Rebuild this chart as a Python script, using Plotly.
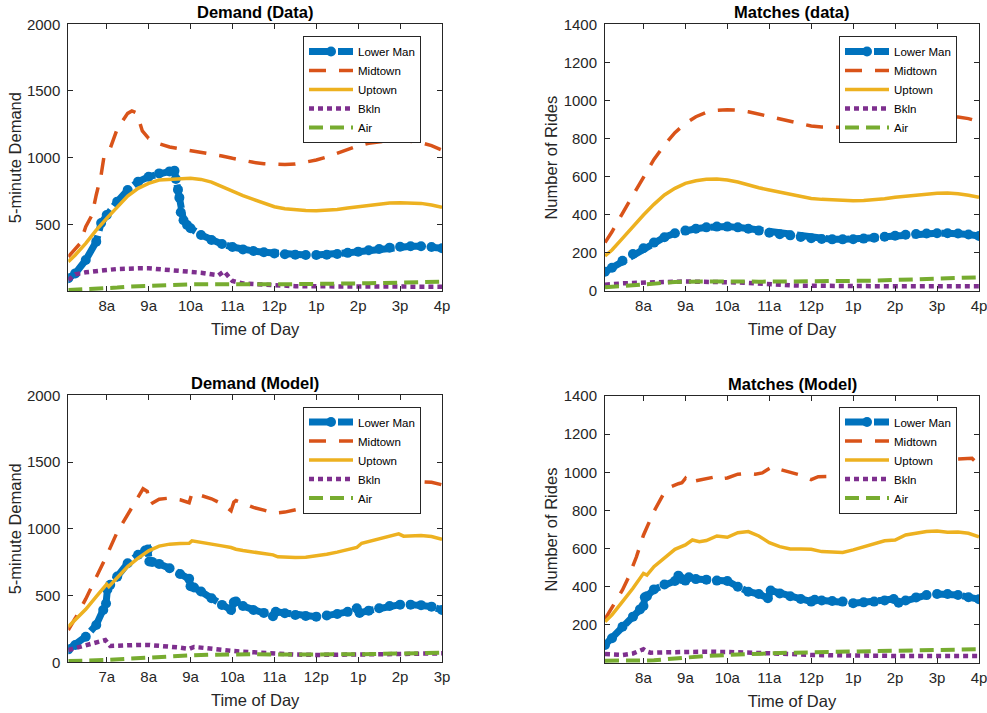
import plotly.graph_objects as go

# ---------------- data (times as "H:MM") ----------------
T_GRID = ["7:05", "7:15", "7:30", "7:45", "8:00", "8:15", "8:30", "8:45", "9:00", "9:15",
          "9:30", "9:45", "10:00", "10:15", "10:30", "10:45", "11:00", "11:15", "11:30", "11:45",
          "12:00", "12:15", "12:30", "12:45", "13:00", "13:15", "13:30", "13:45", "14:00", "14:15",
          "14:30", "14:45", "15:00", "15:15", "15:30", "15:45", "16:00"]

# Demand (Data)
DD_LOWER_T = ["7:05", "7:15", "7:30", "7:45", "7:52", "8:00", "8:15", "8:30", "8:45", "9:00",
              "9:15", "9:30", "9:37", "9:39", "9:42", "9:44", "9:46", "9:50", "9:55", "10:00",
              "10:15", "10:30", "10:45", "11:00", "11:15", "11:30", "11:45", "12:00", "12:15", "12:30",
              "12:45", "13:00", "13:15", "13:30", "13:45", "14:00", "14:15", "14:30", "14:45", "15:00",
              "15:15", "15:30", "15:45", "16:00"]
DD_LOWER = [95, 132, 232, 370, 510, 570, 670, 757, 820, 857,
            882, 897, 902, 840, 760, 700, 590, 530, 495, 470,
            420, 382, 352, 330, 312, 300, 290, 282, 276, 272,
            270, 270, 272, 278, 286, 295, 305, 315, 325, 332,
            335, 335, 330, 320]
DD_MID_T = ["7:05", "7:15", "7:22", "7:30", "7:39", "7:45", "7:52", "7:56", "8:00", "8:05",
            "8:15", "8:30", "8:36", "8:43", "8:51", "9:00", "9:08", "9:15", "9:30", "9:45",
            "10:00", "10:15", "10:30", "10:45", "11:00", "11:15", "11:30", "11:45", "12:00", "12:15",
            "12:30", "12:45", "13:00", "13:15", "13:30", "13:45", "14:00", "14:15", "14:30", "14:45",
            "15:00", "15:15", "15:30", "15:45", "16:00"]
DD_MID = [257, 315, 357, 482, 570, 720, 870, 1005, 1020, 1070,
          1215, 1332, 1350, 1335, 1200, 1145, 1120, 1105, 1080, 1067,
          1057, 1042, 1027, 1012, 995, 977, 965, 955, 950, 948,
          952, 965, 982, 1005, 1032, 1062, 1090, 1108, 1120, 1128,
          1132, 1125, 1112, 1090, 1057]
DD_UP = [220, 270, 357, 457, 545, 632, 712, 770, 807, 832,
         837, 842, 845, 837, 817, 782, 745, 715, 687, 660,
         632, 617, 607, 603, 602, 605, 612, 622, 632, 642,
         652, 660, 662, 662, 657, 645, 627]
DD_BKLN_T = ["7:05", "7:15", "7:30", "7:45", "8:00", "8:15", "8:30", "8:45", "9:00", "9:15",
             "9:30", "9:45", "10:00", "10:15", "10:30", "10:40", "10:48", "11:00", "11:15", "11:30",
             "11:45", "12:00", "12:30", "13:00", "14:00", "15:00", "16:00"]
DD_BKLN = [82, 125, 140, 152, 157, 165, 170, 170, 170, 165,
           157, 152, 145, 137, 125, 118, 148, 75, 57, 52,
           45, 40, 36, 35, 34, 33, 32]
DD_AIR = [7, 9, 12, 16, 20, 26, 32, 36, 40, 43,
          45, 48, 50, 51, 52, 52, 52, 52, 52, 51,
          50, 50, 51, 51, 52, 53, 54, 56, 57, 58,
          60, 61, 62, 64, 66, 68, 70]

# Matches (data) -- all on T_GRID
MD_LOWER = [101, 122, 159, 194, 224, 254, 282, 303, 317, 327,
            334, 338, 338, 334, 327, 317, 306, 298, 292, 284,
            277, 273, 271, 271, 272, 275, 280, 285, 290, 295,
            299, 302, 303, 303, 302, 297, 289]
MD_MID = [254, 311, 408, 504, 600, 691, 766, 831, 880, 915,
          938, 948, 952, 950, 941, 929, 915, 901, 889, 877,
          866, 861, 859, 858, 859, 862, 866, 872, 880, 889,
          898, 906, 912, 915, 913, 905, 889]
MD_UP = [184, 215, 276, 338, 399, 455, 504, 539, 565, 579,
         586, 588, 583, 572, 556, 542, 530, 518, 507, 496,
         486, 481, 478, 476, 474, 475, 478, 484, 492, 498,
         504, 509, 513, 514, 511, 503, 492]
MD_BKLN = [33, 37, 40, 42, 45, 47, 48, 49, 50, 50,
           50, 49, 47, 45, 42, 38, 35, 32, 30, 28,
           27, 26, 25, 25, 25, 25, 25, 25, 25, 25,
           25, 25, 25, 25, 25, 25, 25]
MD_AIR = [19, 22, 28, 33, 37, 41, 44, 47, 49, 50,
          51, 51, 51, 50, 50, 49, 49, 49, 49, 49,
          49, 50, 50, 51, 52, 53, 54, 56, 58, 60,
          62, 64, 66, 68, 69, 71, 72]

# Demand (Model)
DM_LOWER_T = ["6:05", "6:15", "6:30", "6:45", "6:55", "6:59", "7:01", "7:05", "7:15", "7:30",
              "7:45", "7:55", "7:59", "8:01", "8:05", "8:15", "8:30", "8:45", "8:58", "9:00",
              "9:05", "9:15", "9:30", "9:45", "9:58", "10:02", "10:05", "10:15", "10:30", "10:45",
              "10:58", "11:02", "11:15", "11:30", "11:45", "12:00", "12:15", "12:30", "12:45", "12:58",
              "13:02", "13:15", "13:30", "13:45", "14:00", "14:15", "14:30", "14:45", "15:00"]
DM_LOWER = [97, 130, 192, 280, 392, 440, 545, 580, 642, 742,
            805, 837, 845, 755, 752, 737, 705, 662, 625, 570,
            560, 530, 480, 430, 392, 450, 455, 422, 392, 370,
            345, 378, 367, 355, 347, 342, 350, 362, 378, 405,
            370, 387, 405, 422, 432, 432, 428, 417, 392]
DM_MID_T = ["6:05", "6:15", "6:30", "6:45", "7:00", "7:15", "7:30", "7:45", "7:52", "7:58",
            "8:02", "8:05", "8:15", "8:30", "8:45", "8:58", "9:02", "9:15", "9:30", "9:45",
            "9:58", "10:02", "10:05", "10:15", "10:30", "10:45", "11:00", "11:15", "11:30", "11:45",
            "12:00", "12:15", "12:30", "12:45", "13:00", "13:15", "13:30", "13:45", "14:00", "14:15",
            "14:30", "14:45", "15:00"]
DM_MID = [242, 330, 475, 635, 800, 975, 1110, 1240, 1300, 1280,
          1180, 1192, 1222, 1230, 1217, 1195, 1265, 1250, 1225, 1187,
          1135, 1200, 1212, 1192, 1160, 1140, 1117, 1125, 1140, 1160,
          1175, 1192, 1230, 1267, 1290, 1310, 1325, 1335, 1345, 1350,
          1352, 1348, 1330]
DM_UP_T = ["6:05", "6:15", "6:30", "6:45", "6:55", "7:00", "7:03", "7:15", "7:30", "7:45",
           "8:00", "8:15", "8:30", "8:45", "8:58", "9:02", "9:15", "9:30", "9:45", "9:58",
           "10:05", "10:15", "10:30", "10:45", "10:58", "11:05", "11:15", "11:30", "11:45", "12:00",
           "12:15", "12:30", "12:45", "12:58", "13:05", "13:15", "13:30", "13:45", "13:58", "14:05",
           "14:15", "14:30", "14:45", "15:00"]
DM_UP = [267, 317, 397, 492, 560, 585, 567, 630, 717, 780,
         835, 870, 885, 890, 892, 910, 900, 887, 872, 860,
         847, 837, 825, 815, 805, 790, 787, 785, 787, 797,
         810, 825, 842, 860, 892, 905, 925, 945, 962, 945,
         947, 950, 942, 922]
DM_BKLN_T = ["6:05", "6:15", "6:30", "6:45", "6:58", "7:05", "7:15", "7:30", "7:45", "8:00",
             "8:15", "8:30", "8:45", "8:58", "9:05", "9:15", "9:30", "9:45", "10:00", "10:15",
             "10:30", "10:45", "11:00", "11:30", "12:00", "12:30", "13:00", "13:30", "14:00", "14:30",
             "15:00"]
DM_BKLN = [92, 105, 130, 147, 167, 122, 125, 130, 130, 130,
           125, 117, 110, 100, 115, 110, 100, 92, 85, 80,
           75, 70, 62, 58, 55, 55, 57, 60, 62, 65,
           67]
DM_AIR_T = ["6:05", "6:30", "7:00", "7:30", "8:00", "8:30", "9:00", "9:30", "10:00", "10:30",
            "11:00", "11:30", "12:00", "12:30", "13:00", "13:30", "14:00", "14:30", "15:00"]
DM_AIR = [10, 12, 17, 27, 37, 45, 52, 57, 60, 60, 58, 57, 56, 57, 60, 63, 66, 69, 72]

# Matches (Model)
MM_LOWER_T = ["7:05", "7:15", "7:30", "7:45", "7:55", "8:00", "8:02", "8:05", "8:15", "8:30",
              "8:45", "8:50", "8:55", "9:00", "9:05", "9:15", "9:30", "9:45", "10:00", "10:15",
              "10:30", "10:45", "10:58", "11:02", "11:15", "11:30", "11:45", "12:00", "12:05", "12:15",
              "12:30", "12:45", "13:00", "13:15", "13:30", "13:45", "13:58", "14:05", "14:15", "14:30",
              "14:45", "15:00", "15:15", "15:30", "15:45", "16:00"]
MM_LOWER = [95, 130, 190, 243, 281, 299, 345, 350, 386, 412,
            430, 458, 440, 432, 450, 440, 437, 432, 430, 400,
            374, 362, 340, 380, 365, 350, 336, 322, 332, 328,
            325, 322, 313, 318, 322, 328, 336, 316, 328, 344,
            356, 362, 362, 357, 345, 334]
MM_MID_T = ["7:05", "7:15", "7:30", "7:38", "7:45", "7:50", "8:00", "8:15", "8:30", "8:40",
            "8:50", "8:55", "9:00", "9:05", "9:15", "9:30", "9:45", "9:50", "10:00", "10:15",
            "10:30", "10:40", "10:50", "11:00", "11:05", "11:15", "11:30", "11:45", "12:00", "12:10",
            "12:30", "12:45", "13:00", "13:30", "14:00", "14:30", "15:00", "15:30", "15:50", "16:00"]
MM_MID = [230, 290, 383, 444, 510, 557, 670, 795, 895, 925,
          940, 945, 968, 942, 955, 968, 978, 965, 970, 990,
          995, 990, 997, 1020, 1030, 1015, 998, 985, 962, 977,
          978, 986, 995, 1010, 1025, 1040, 1055, 1070, 1073, 1038]
MM_UP_T = ["7:05", "7:15", "7:30", "7:45", "8:00", "8:05", "8:15", "8:30", "8:45", "9:00",
           "9:10", "9:20", "9:30", "9:45", "10:00", "10:15", "10:30", "10:45", "11:00", "11:15",
           "11:30", "11:45", "12:00", "12:15", "12:30", "12:45", "13:00", "13:15", "13:30", "13:45",
           "14:00", "14:15", "14:30", "14:45", "15:00", "15:15", "15:30", "15:45", "16:00"]
MM_UP = [217, 252, 322, 392, 470, 461, 505, 549, 596, 619,
         645, 636, 642, 666, 659, 683, 689, 666, 631, 610,
         598, 598, 596, 584, 580, 580, 593, 610, 624, 641,
         645, 671, 680, 689, 692, 685, 687, 680, 662]
MM_BKLN_T = ["7:05", "7:30", "7:45", "7:55", "8:00", "8:05", "8:10", "8:30", "9:00", "9:30",
             "10:00", "10:30", "11:00", "11:30", "12:00", "12:30", "13:00", "14:00", "15:00", "16:00"]
MM_BKLN = [47, 42, 50, 65, 72, 60, 54, 56, 59, 59, 58, 56, 54, 47, 42, 40, 38, 37, 37, 37]
MM_AIR_T = ["7:05", "7:30", "8:00", "8:15", "8:30", "9:00", "9:30", "10:00", "10:30", "11:00",
            "11:30", "12:00", "13:00", "14:00", "15:00", "16:00"]
MM_AIR = [12, 12, 12, 14, 19, 30, 37, 42, 47, 51, 54, 56, 59, 63, 68, 72]

SERIES_NAMES = ["Lower Man", "Midtown", "Uptown", "Bkln", "Air"]
TICKS_7TO4 = ["8a", "9a", "10a", "11a", "12p", "1p", "2p", "3p", "4p"]
TICKS_6TO3 = ["7a", "8a", "9a", "10a", "11a", "12p", "1p", "2p", "3p"]
TITLES = ["Demand (Data)", "Matches (data)", "Demand (Model)", "Matches (Model)"]
YTITLES = ["5-minute Demand", "Number of Rides", "5-minute Demand", "Number of Rides"]


def hrs(ts):
    out = []
    for t in ts:
        h, m = t.split(":")
        out.append(int(h) + int(m) / 60.0)
    return out


# ---------------- styling ----------------
FONT = "Liberation Sans, Arial, Helvetica, sans-serif"
TXT = "#262626"
COLORS = ["#0072BD", "#D95319", "#EDB120", "#7E2F8E", "#77AC30"]
W, H = 987, 713


def style(i):
    c = COLORS[i]
    if i == 0:
        return dict(mode="lines+markers", line=dict(color=c, width=7, dash="24px,5px"),
                    marker=dict(color=c, size=10, symbol="circle"))
    if i == 1:
        return dict(mode="lines", line=dict(color=c, width=3.5, dash="17px,13px"))
    if i == 2:
        return dict(mode="lines", line=dict(color=c, width=3.5))
    if i == 3:
        return dict(mode="lines", line=dict(color=c, width=4.5, dash="5px,4px"))
    return dict(mode="lines", line=dict(color=c, width=4, dash="14px,7px"))


panels = [
    dict(series=[(DD_LOWER_T, DD_LOWER), (DD_MID_T, DD_MID), (T_GRID, DD_UP),
                 (DD_BKLN_T, DD_BKLN), (T_GRID, DD_AIR)],
         px=(68.3, 442.0), py=(24.3, 291.0), xr=(7 + 5 / 60, 16), tv=list(range(8, 17)),
         tt=TICKS_7TO4, yr=(0, 2000), ytv=[500, 1000, 1500, 2000], leg=(303, 36)),
    dict(series=[(T_GRID, MD_LOWER), (T_GRID, MD_MID), (T_GRID, MD_UP),
                 (T_GRID, MD_BKLN), (T_GRID, MD_AIR)],
         px=(605.0, 979.0), py=(24.3, 291.0), xr=(7 + 5 / 60, 16), tv=list(range(8, 17)),
         tt=TICKS_7TO4, yr=(0, 1400), ytv=list(range(0, 1401, 200)), leg=(839, 36)),
    dict(series=[(DM_LOWER_T, DM_LOWER), (DM_MID_T, DM_MID), (DM_UP_T, DM_UP),
                 (DM_BKLN_T, DM_BKLN), (DM_AIR_T, DM_AIR)],
         px=(68.3, 442.0), py=(395.3, 662.3), xr=(6 + 5 / 60, 15), tv=list(range(7, 16)),
         tt=TICKS_6TO3, yr=(0, 2000), ytv=[0, 500, 1000, 1500, 2000], leg=(303, 406.5)),
    dict(series=[(MM_LOWER_T, MM_LOWER), (MM_MID_T, MM_MID), (MM_UP_T, MM_UP),
                 (MM_BKLN_T, MM_BKLN), (MM_AIR_T, MM_AIR)],
         px=(605.0, 979.0), py=(396.0, 663.0), xr=(7 + 5 / 60, 16), tv=list(range(8, 17)),
         tt=TICKS_7TO4, yr=(0, 1400), ytv=list(range(200, 1401, 200)), leg=(839, 406.5)),
]

fig = go.Figure()
layout = dict(width=W, height=H, margin=dict(l=0, r=0, t=0, b=0),
              paper_bgcolor="white", plot_bgcolor="white",
              font=dict(family=FONT, color=TXT, size=15), annotations=[])

for k, p in enumerate(panels):
    sfx = "" if k == 0 else str(k + 1)
    legname = "legend" + sfx
    for i, (ts, vals) in enumerate(p["series"]):
        assert len(ts) == len(vals), (k, i, len(ts), len(vals))
        fig.add_trace(go.Scatter(x=hrs(ts), y=vals, name=SERIES_NAMES[i],
                                 xaxis="x" + sfx, yaxis="y" + sfx, legend=legname,
                                 **style(i)))
    xdom = [p["px"][0] / W, p["px"][1] / W]
    ydom = [1 - p["py"][1] / H, 1 - p["py"][0] / H]
    common = dict(showline=True, linecolor=TXT, linewidth=1, mirror="ticks",
                  ticks="inside", ticklen=5, tickwidth=1, tickcolor=TXT,
                  showgrid=False, zeroline=False, automargin=False,
                  ticklabeloverflow="allow",
                  tickfont=dict(family=FONT, size=15, color=TXT))
    layout["xaxis" + sfx] = dict(domain=xdom, anchor="y" + sfx, range=list(p["xr"]),
                                 tickmode="array", tickvals=p["tv"], ticktext=p["tt"],
                                 title=dict(text="Time of Day", standoff=10,
                                            font=dict(family=FONT, size=16.5, color=TXT)),
                                 ticklabelstandoff=1, **common)
    layout["yaxis" + sfx] = dict(domain=ydom, anchor="x" + sfx, range=list(p["yr"]),
                                 tickmode="array", tickvals=p["ytv"],
                                 ticktext=[str(v) for v in p["ytv"]],
                                 title=dict(text=YTITLES[k], standoff=1,
                                            font=dict(family=FONT, size=16.5, color=TXT)),
                                 ticklabelstandoff=4, **common)
    layout[legname] = dict(x=p["leg"][0] / W, y=1 - p["leg"][1] / H, xanchor="left", yanchor="top",
                           xref="paper", yref="paper", bgcolor="white", bordercolor=TXT,
                           borderwidth=1, itemwidth=44, tracegroupgap=0,
                           font=dict(family=FONT, size=11.5, color="#000000"))
    layout["annotations"].append(dict(text="<b>" + TITLES[k] + "</b>", xref="paper", yref="paper",
                                      x=(xdom[0] + xdom[1]) / 2, y=ydom[1], yanchor="bottom",
                                      xanchor="center", yshift=1, showarrow=False,
                                      font=dict(family=FONT, size=16.5, color="#000000")))

fig.update_layout(**layout)
fig.write_html("out.html", config={"displayModeBar": False},
               post_script="document.body.style.margin='0px';")
